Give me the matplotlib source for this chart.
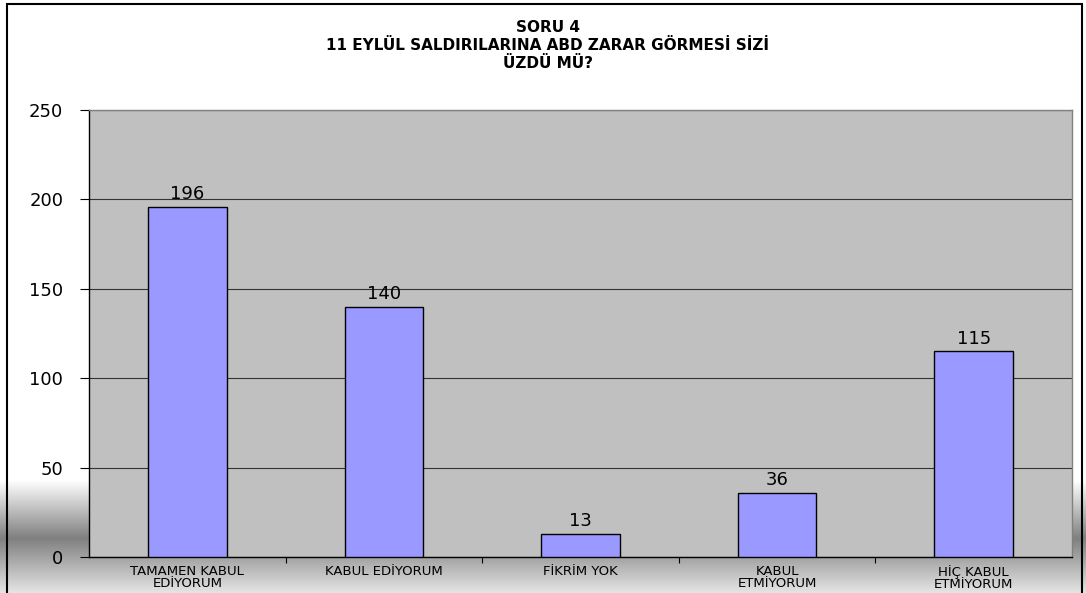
import matplotlib
matplotlib.use("Agg")
import matplotlib.pyplot as plt
import numpy as np
from matplotlib.patches import Rectangle

# ── data ──────────────────────────────────────────────────────────────────────
categories = ["TAMAMEN KABUL\nEDİYORUM", "KABUL EDİYORUM", "FİKRİM YOK",
              "KABUL\nETMİYORUM", "HİÇ KABUL\nETMİYORUM"]
counts = [196, 140, 13, 36, 115]
y_ticks = [0, 50, 100, 150, 200, 250]
title_lines = ["SORU 4", "11 EYLÜL SALDIRILARINA ABD ZARAR GÖRMESİ SİZİ", "ÜZDÜ MÜ?"]

W, H = 1086, 593
# wide face: the original's text is rendered stretched horizontally
plt.rcParams["font.family"] = ["DejaVu Sans"]

fig = plt.figure(figsize=(W / 100, H / 100), dpi=100)

# ── background gradient band near the bottom ─────────────────────────────────
bg = fig.add_axes([0, 0, 1, 1], zorder=-10)
rows = np.arange(H)
shade = np.interp(rows, [0, 480, 538, 593], [1.0, 1.0, 0.5, 0.9])
img = np.repeat(shade[:, None], 4, axis=1)
bg.imshow(img, cmap="gray", vmin=0, vmax=1, aspect="auto",
          extent=[0, 1, 0, 1], origin="upper", interpolation="bilinear")
bg.set_axis_off()

# outer chart border
fig.patches.append(Rectangle((7 / W, -0.05), (1082 - 7) / W, (H - 3.5) / H + 0.05,
                             transform=fig.transFigure, fill=False,
                             edgecolor="black", linewidth=1.5, zorder=5))

# ── plot area ────────────────────────────────────────────────────────────────
ax = fig.add_axes([89 / W, 36 / H, (1072 - 89) / W, (557 - 110) / H])
ax.set_facecolor("#C0C0C0")
x = np.arange(len(categories))
bars = ax.bar(x, counts, width=0.4, color="#9999FF", edgecolor="black",
              linewidth=1.0, zorder=3)
for b, v in zip(bars, counts):
    ax.text(b.get_x() + b.get_width() / 2, v + 2.0, str(v), ha="center",
            va="bottom", fontsize=13, zorder=4)

ax.set_xlim(-0.5, len(categories) - 0.5)
ax.set_ylim(0, 250)
ax.set_yticks(y_ticks)
ax.set_yticklabels([str(t) for t in y_ticks], fontsize=13)
ax.grid(axis="y", color="#333333", linewidth=0.8, zorder=1)
ax.tick_params(axis="y", direction="out", length=6.5, width=0.8, pad=12)

ax.set_xticks(np.arange(0.5, len(categories) - 0.5, 1.0))
ax.set_xticklabels([])
ax.tick_params(axis="x", which="major", direction="out", length=4, width=0.8)
ax.set_xticks(x, minor=True)
ax.set_xticklabels(categories, minor=True, fontsize=9.5, linespacing=0.9)
ax.tick_params(axis="x", which="minor", length=0, pad=6)

for s in ("left", "bottom"):
    ax.spines[s].set_color("black")
    ax.spines[s].set_linewidth(1.0)
for s in ("top", "right"):
    ax.spines[s].set_color("#808080")
    ax.spines[s].set_linewidth(1.0)

for line, ypix in zip(title_lines, [27, 45, 63]):
    fig.text(548 / W, 1 - ypix / H, line, ha="center", va="center",
             fontsize=11, fontweight="bold")

fig.savefig("out.png", dpi=100)
